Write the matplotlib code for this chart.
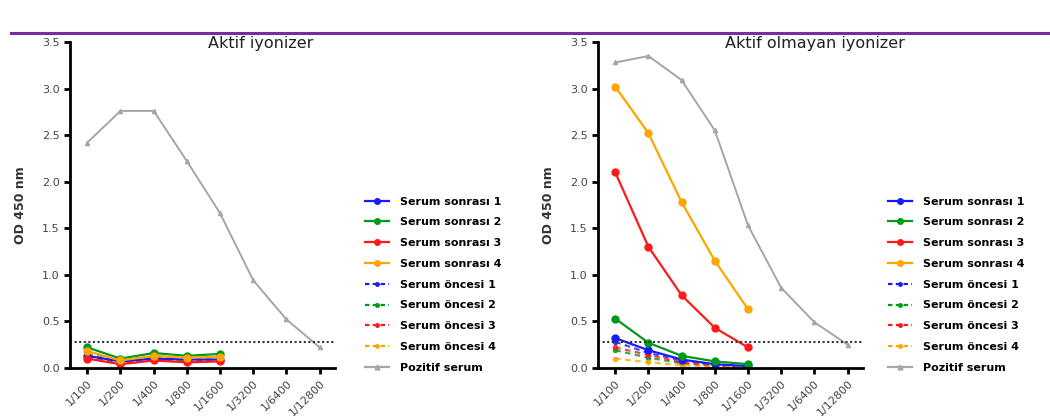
import numpy as np
import matplotlib
matplotlib.use("Agg")
import matplotlib.pyplot as plt
from matplotlib.lines import Line2D

dilutions = ["1/100", "1/200", "1/400", "1/800", "1/1600", "1/3200", "1/6400", "1/12800"]
cutoff = 0.28

labels = ["Serum sonrası 1", "Serum sonrası 2", "Serum sonrası 3", "Serum sonrası 4",
          "Serum öncesi 1", "Serum öncesi 2", "Serum öncesi 3", "Serum öncesi 4",
          "Pozitif serum"]

# Aktif iyonizer
aktif_sonrasi_1 = [0.13, 0.07, 0.10, 0.09, 0.09]
aktif_sonrasi_2 = [0.22, 0.10, 0.16, 0.13, 0.15]
aktif_sonrasi_3 = [0.10, 0.04, 0.08, 0.06, 0.07]
aktif_sonrasi_4 = [0.18, 0.08, 0.13, 0.11, 0.12]
aktif_oncesi_1 = [0.12, 0.06, 0.09, 0.08, 0.08]
aktif_oncesi_2 = [0.15, 0.07, 0.11, 0.10, 0.10]
aktif_oncesi_3 = [0.11, 0.05, 0.08, 0.07, 0.08]
aktif_oncesi_4 = [0.14, 0.07, 0.11, 0.09, 0.10]
aktif_pozitif = [2.42, 2.76, 2.76, 2.22, 1.66, 0.94, 0.52, 0.22]

# Aktif olmayan iyonizer
pasif_sonrasi_1 = [0.32, 0.19, 0.09, 0.04, 0.02]
pasif_sonrasi_2 = [0.53, 0.27, 0.13, 0.07, 0.04]
pasif_sonrasi_3 = [2.10, 1.30, 0.78, 0.43, 0.22]
pasif_sonrasi_4 = [3.02, 2.52, 1.78, 1.15, 0.63]
pasif_oncesi_1 = [0.28, 0.16, 0.08, 0.03, 0.01]
pasif_oncesi_2 = [0.19, 0.11, 0.05, 0.02, 0.01]
pasif_oncesi_3 = [0.22, 0.14, 0.06, 0.02, 0.01]
pasif_oncesi_4 = [0.10, 0.06, 0.03, 0.01, 0.01]
pasif_pozitif = [3.28, 3.35, 3.09, 2.55, 1.53, 0.86, 0.49, 0.25]

colors = ["#1a1aff", "#009a1a", "#ff1a1a", "#ffa500"]
gray = "#a6a6a6"


def draw_panel(ax, sonrasi, oncesi, pozitif, title, title_x):
    x = np.arange(len(dilutions))
    for vals, c in zip(oncesi, colors):
        ax.plot(x[:len(vals)], vals, color=c, ls=(0, (2.5, 2)), lw=1.6,
                marker="o", ms=3, alpha=0.8)
    for vals, c in zip(sonrasi, colors):
        ax.plot(x[:len(vals)], vals, color=c, lw=1.6, marker="o", ms=5)
    ax.plot(x, pozitif, color=gray, lw=1.4, marker="^", ms=3)
    ax.axhline(cutoff, color="#333333", ls=(0, (1, 1.2)), lw=1.5)

    ax.set_xlim(-0.52, 7.45)
    ax.set_ylim(0, 3.5)
    ax.set_yticks(np.arange(0, 3.6, 0.5))
    ax.set_yticklabels([f"{v:.1f}" for v in np.arange(0, 3.6, 0.5)])
    ax.set_xticks(x)
    ax.set_xticklabels(dilutions, rotation=45, ha="right", rotation_mode="anchor")
    for s in ["top", "right"]:
        ax.spines[s].set_visible(False)
    for s in ["left", "bottom"]:
        ax.spines[s].set_linewidth(2)
    ax.tick_params(width=2, length=4, labelsize=8, labelcolor="#444444")
    ax.set_ylabel("OD 450 nm", fontsize=9, fontweight="bold", color="#333333",
                  labelpad=11)
    ax.text(title_x, 0.995, title, transform=ax.transAxes, ha="center", va="center",
            fontsize=11.5, color="#222222")


fig = plt.figure(figsize=(10.5, 4.2), dpi=100)
ax1 = fig.add_axes([0.0667, 0.124, 0.252, 0.776])
ax2 = fig.add_axes([0.5695, 0.124, 0.252, 0.776])

draw_panel(ax1,
           [aktif_sonrasi_1, aktif_sonrasi_2, aktif_sonrasi_3, aktif_sonrasi_4],
           [aktif_oncesi_1, aktif_oncesi_2, aktif_oncesi_3, aktif_oncesi_4],
           aktif_pozitif, "Aktif iyonizer", 0.72)
draw_panel(ax2,
           [pasif_sonrasi_1, pasif_sonrasi_2, pasif_sonrasi_3, pasif_sonrasi_4],
           [pasif_oncesi_1, pasif_oncesi_2, pasif_oncesi_3, pasif_oncesi_4],
           pasif_pozitif, "Aktif olmayan iyonizer", 0.82)

handles = []
for c in colors:
    handles.append(Line2D([], [], color=c, lw=1.6, marker="o", ms=4))
for c in colors:
    handles.append(Line2D([], [], color=c, lw=1.6, ls=(0, (2, 1.5)), marker="o", ms=2.5))
handles.append(Line2D([], [], color=gray, lw=1.6, marker="^", ms=3.5))

for lx in [0.348, 0.846]:
    fig.legend(handles, labels, loc="upper left", bbox_to_anchor=(lx, 0.532),
               frameon=False, prop={"size": 8, "weight": "bold"},
               handlelength=2.1, handletextpad=1.0, labelspacing=0.97,
               borderaxespad=0, borderpad=0)

# purple divider line at the top
fig.add_artist(Line2D([0.01, 1.0], [0.921, 0.921], color="#7030a0", lw=2.2,
                      transform=fig.transFigure))

fig.savefig("out.png", dpi=100)
